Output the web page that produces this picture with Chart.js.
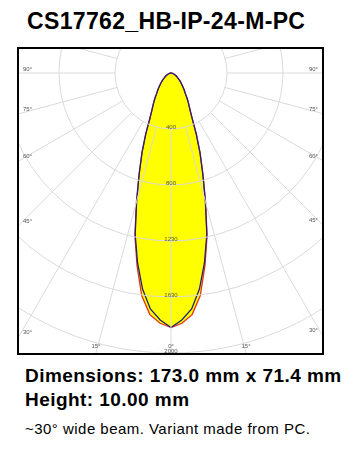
<!DOCTYPE html>
<html>
<head>
<meta charset="utf-8">
<script src="https://cdn.jsdelivr.net/npm/chart.js@4.4.1/dist/chart.umd.min.js"></script>
<style>
  html, body { margin: 0; padding: 0; background: #fff; }
  body { width: 353px; height: 452px; position: relative; overflow: hidden;
         font-family: Arial, "Liberation Sans", sans-serif; color: #000; }
  #titulo { position: absolute; left: 27px; top: 10px; font-size: 23px; line-height: 23px;
            font-weight: bold; white-space: nowrap; letter-spacing: 0.35px; }
  #caixa { position: absolute; left: 17px; top: 47px; width: 303px; height: 304px;
           border: 2px solid #000; overflow: hidden; background: #fff; }
  #grafico { position: absolute; left: -184px; top: -312px; width: 672px; height: 672px; }
  .info { position: absolute; left: 25px; white-space: nowrap; }
  #dimensoes { top: 366px; font-size: 19px; line-height: 19px; font-weight: bold; letter-spacing: 0.45px; }
  #altura { top: 390px; font-size: 19px; line-height: 19px; font-weight: bold; letter-spacing: 0.45px; }
  #nota { top: 421px; font-size: 15px; line-height: 15px; letter-spacing: 0.47px; }
</style>
</head>
<body>
<div id="titulo">CS17762_HB-IP-24-M-PC</div>
<div id="caixa"><canvas id="grafico" width="672" height="672"></canvas></div>
<div id="dimensoes" class="info">Dimensions: 173.0 mm x 71.4 mm</div>
<div id="altura" class="info">Height: 10.00 mm</div>
<div id="nota" class="info">~30° wide beam. Variant made from PC.</div>

<script>
(function () {
  const gammaDeg = [0, 2.5, 5, 7.5, 10, 12.5, 15, 17.5, 20, 22.5, 25, 27.5, 30, 32.5, 35, 37.5,
    40, 42.5, 45, 47.5, 50, 52.5, 55, 57.5, 60, 62.5, 65, 67.5, 70, 72.5, 75, 77.5, 80, 82.5, 85, 87.5, 90];
  const intensityC0 = [1852, 1823, 1765, 1634, 1423, 1213, 973, 770, 617, 480, 363, 297, 255, 218, 181, 160,
    138, 120, 105, 91, 80, 69, 58, 51, 44, 38, 33, 27, 22, 18, 15, 11, 9, 6, 4, 2, 0];
  const intensityC90 = [1852, 1799, 1724, 1586, 1402, 1204, 966, 770, 617, 480, 363, 297, 255, 218, 181, 160,
    138, 120, 105, 91, 80, 69, 58, 51, 44, 38, 33, 27, 22, 18, 15, 11, 9, 6, 4, 2, 0];

  // anéis de intensidade e rótulos impressos
  const ringValues = [407.5, 815, 1222.5, 1630, 2037.5];
  const ringLabels = ["400", "800", "1230", "1630", "2000"];
  const angleTicks = [0, 15, 30, 45, 60, 75, 90];

  const GRID = "#dadada";
  const TXT = "#555";
  const FONTE = "6px Arial, 'Liberation Sans', sans-serif";

  // janela visível (coordenadas do canvas)
  const JANELA = { x0: 184, y0: 312, x1: 184 + 303, y1: 312 + 304 };

  const passo = gammaDeg[1] - gammaDeg[0];
  const nPontos = Math.round(360 / passo);
  const rotulos = [];
  const serieC0 = [];
  const serieC90 = [];
  for (let i = 0; i < nPontos; i++) {
    const a = i * passo;
    const g = Math.min(a, 360 - a);
    const j = gammaDeg.indexOf(g);
    rotulos.push(a + "°");
    serieC0.push(j >= 0 ? intensityC0[j] : 0);
    serieC90.push(j >= 0 ? intensityC90[j] : 0);
  }

  const decoracao = {
    id: "decoracao",
    afterDatasetsDraw(chart) {
      const r = chart.scales.r;
      const ctx = chart.ctx;
      const rIni = r.getDistanceFromCenterForValue(ringValues[0]);
      const cada = Math.round(15 / passo);
      ctx.save();
      ctx.strokeStyle = GRID;
      ctx.lineWidth = 1;
      for (let i = 0; i < nPontos; i += cada) {
        const a = r.getPointPosition(i, rIni);
        const b = r.getPointPosition(i, r.drawingArea);
        ctx.beginPath();
        ctx.moveTo(a.x, a.y);
        ctx.lineTo(b.x, b.y);
        ctx.stroke();
      }
      ctx.restore();
    },
    afterDraw(chart) {
      const r = chart.scales.r;
      const ctx = chart.ctx;
      const xc = r.xCenter, yc = r.yCenter;
      ctx.save();
      ctx.font = FONTE;
      ctx.fillStyle = TXT;
      ctx.textBaseline = "middle";

      // rótulos dos anéis ao longo de 0°
      ctx.textAlign = "center";
      ringValues.forEach((v, k) => {
        const p = r.getPointPosition(0, r.getDistanceFromCenterForValue(v));
        ctx.fillText(ringLabels[k], p.x, p.y - 1.5);
      });

      // rótulos dos ângulos na borda da caixa
      angleTicks.forEach(g => {
        const k = Math.round(g / passo);
        const idxs = g === 0 ? [0] : [k, nPontos - k];
        idxs.forEach(idx => {
          const p = r.getPointPosition(idx, r.drawingArea);
          const dx = p.x - xc, dy = p.y - yc;
          const tx = dx < -1e-6 ? (JANELA.x0 - xc) / dx : dx > 1e-6 ? (JANELA.x1 - xc) / dx : Infinity;
          const ty = dy > 1e-6 ? (JANELA.y1 - yc) / dy : Infinity;
          const txt = g + "°";
          if (tx < ty) {
            const y = yc + dy * tx;
            if (dx < 0) { ctx.textAlign = "left"; ctx.fillText(txt, JANELA.x0 + 4, y - 4); }
            else { ctx.textAlign = "right"; ctx.fillText(txt, JANELA.x1 - 4, y - 4); }
          } else {
            const x = xc + dx * ty;
            ctx.textAlign = "center";
            ctx.fillText(txt, x, JANELA.y1 - 7);
          }
        });
      });
      ctx.restore();
    }
  };

  const canvas = document.getElementById("grafico");
  new Chart(canvas, {
    type: "radar",
    data: {
      labels: rotulos,
      datasets: [
        { data: serieC90, borderColor: "#23207a", borderWidth: 1.3, fill: false,
          backgroundColor: "rgba(0,0,0,0)", pointRadius: 0 },
        { data: serieC0, borderColor: "#e0321c", borderWidth: 1.3, fill: true,
          backgroundColor: "#ffff00", pointRadius: 0 }
      ]
    },
    options: {
      responsive: false,
      animation: false,
      events: [],
      plugins: { legend: { display: false }, tooltip: { enabled: false } },
      elements: { line: { tension: 0 } },
      scales: {
        r: {
          startAngle: 180,
          min: 0,
          max: ringValues[0] * 6,
          ticks: { display: false, stepSize: ringValues[0] },
          grid: { circular: true, color: GRID, lineWidth: 1, z: 1 },
          angleLines: { display: false },
          pointLabels: { display: false }
        }
      }
    },
    plugins: [decoracao]
  });
})();
</script>
</body>
</html>
